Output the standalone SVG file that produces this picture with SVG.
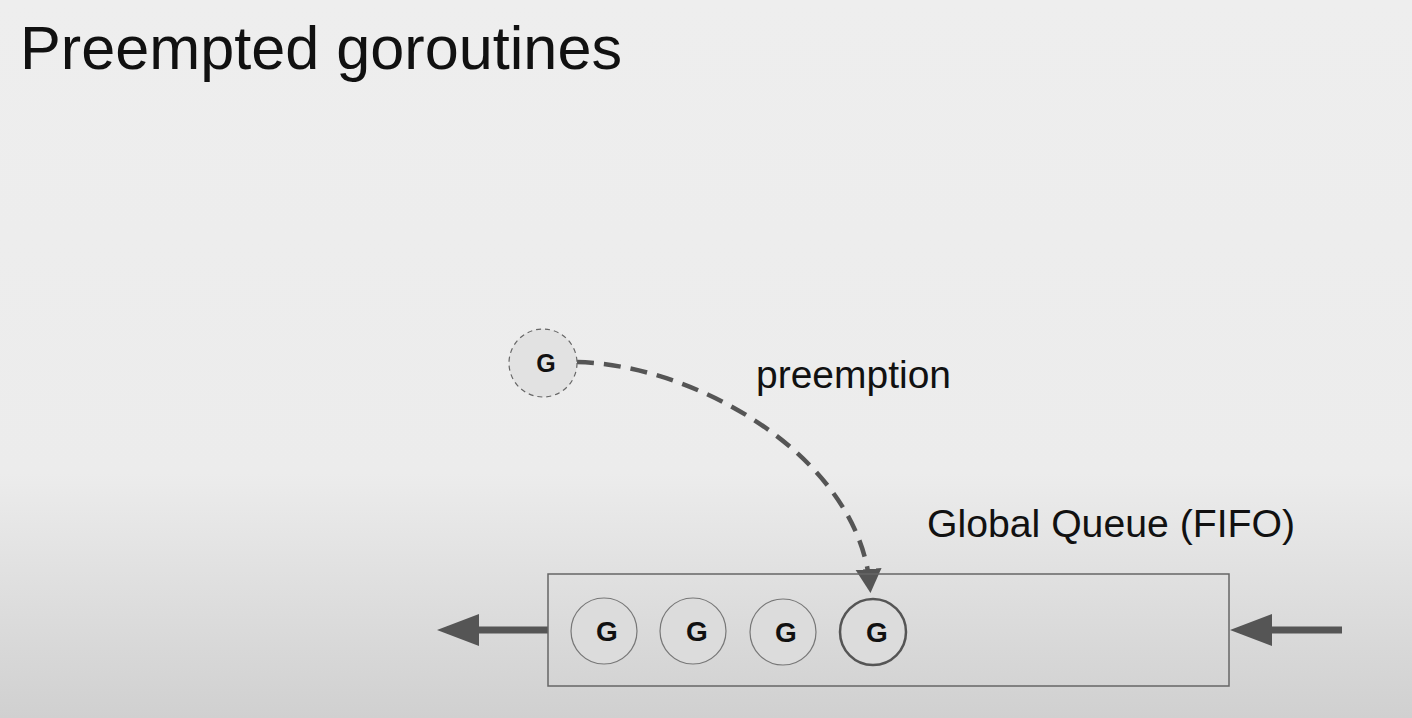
<svg xmlns="http://www.w3.org/2000/svg" width="1412" height="718" viewBox="0 0 1412 718">
<defs>
<linearGradient id="bg" x1="0" y1="0" x2="0" y2="1">
<stop offset="0" stop-color="#eeeeee"/>
<stop offset="0.66" stop-color="#ececec"/>
<stop offset="1" stop-color="#d0d0d0"/>
</linearGradient>
<marker id="ah" markerUnits="userSpaceOnUse" markerWidth="24" markerHeight="30" refX="18" refY="13" orient="auto">
<path d="M0,0 L24,13 L0,26 Z" fill="#555"/>
</marker>
<marker id="ah2" markerUnits="userSpaceOnUse" markerWidth="42" markerHeight="32" refX="32" refY="16" orient="auto">
<path d="M0,0 L42,16 L0,32 Z" fill="#555"/>
</marker>
</defs>
<style>
.g{fill:#dcdcdc;stroke:#777;stroke-width:1.2}
.lbl{font-family:"Liberation Sans",Arial,sans-serif;font-size:28px;font-weight:bold;fill:#111;text-anchor:middle}
.lbl.s{font-size:25px}
.txt{font-family:"Liberation Sans",Arial,sans-serif;fill:#111}
</style>
<rect width="1412" height="718" fill="url(#bg)"/>
<text class="txt" x="20" y="69" font-size="61" textLength="602" lengthAdjust="spacingAndGlyphs">Preempted goroutines</text>
<g id="connectors">
<path d="M577,362 C700,365 860,460 870,587" fill="none" stroke="#555" stroke-width="4.5" stroke-dasharray="17,10" marker-end="url(#ah)"/>
<line x1="548" y1="630" x2="447" y2="630" stroke="#555" stroke-width="7" marker-end="url(#ah2)"/>
<line x1="1342" y1="630" x2="1240" y2="630" stroke="#555" stroke-width="7" marker-end="url(#ah2)"/>
</g>
<g id="preempted">
<circle cx="543" cy="363" r="34" fill="#e2e2e2" stroke="#666" stroke-width="1.2" stroke-dasharray="5,4"/>
<text class="lbl s" x="546" y="372">G</text>
</g>
<text class="txt" x="756" y="388" font-size="38" textLength="195" lengthAdjust="spacingAndGlyphs">preemption</text>
<g id="queue">
<rect x="548" y="574" width="681" height="112" fill="none" stroke="#666" stroke-width="1.5"/>
<text class="txt" x="927" y="537" font-size="38" textLength="368" lengthAdjust="spacingAndGlyphs">Global Queue (FIFO)</text>
</g>
<g id="g1"><circle class="g" cx="604" cy="631" r="33"/><text class="lbl" x="607" y="641">G</text></g>
<g id="g2"><circle class="g" cx="693" cy="631" r="33"/><text class="lbl" x="697" y="641">G</text></g>
<g id="g3"><circle class="g" cx="783" cy="632" r="33"/><text class="lbl" x="786" y="642">G</text></g>
<g id="g4"><circle cx="873" cy="632" r="33" fill="#dcdcdc" stroke="#555" stroke-width="2.5"/><text class="lbl" x="877" y="642">G</text></g>
</svg>
